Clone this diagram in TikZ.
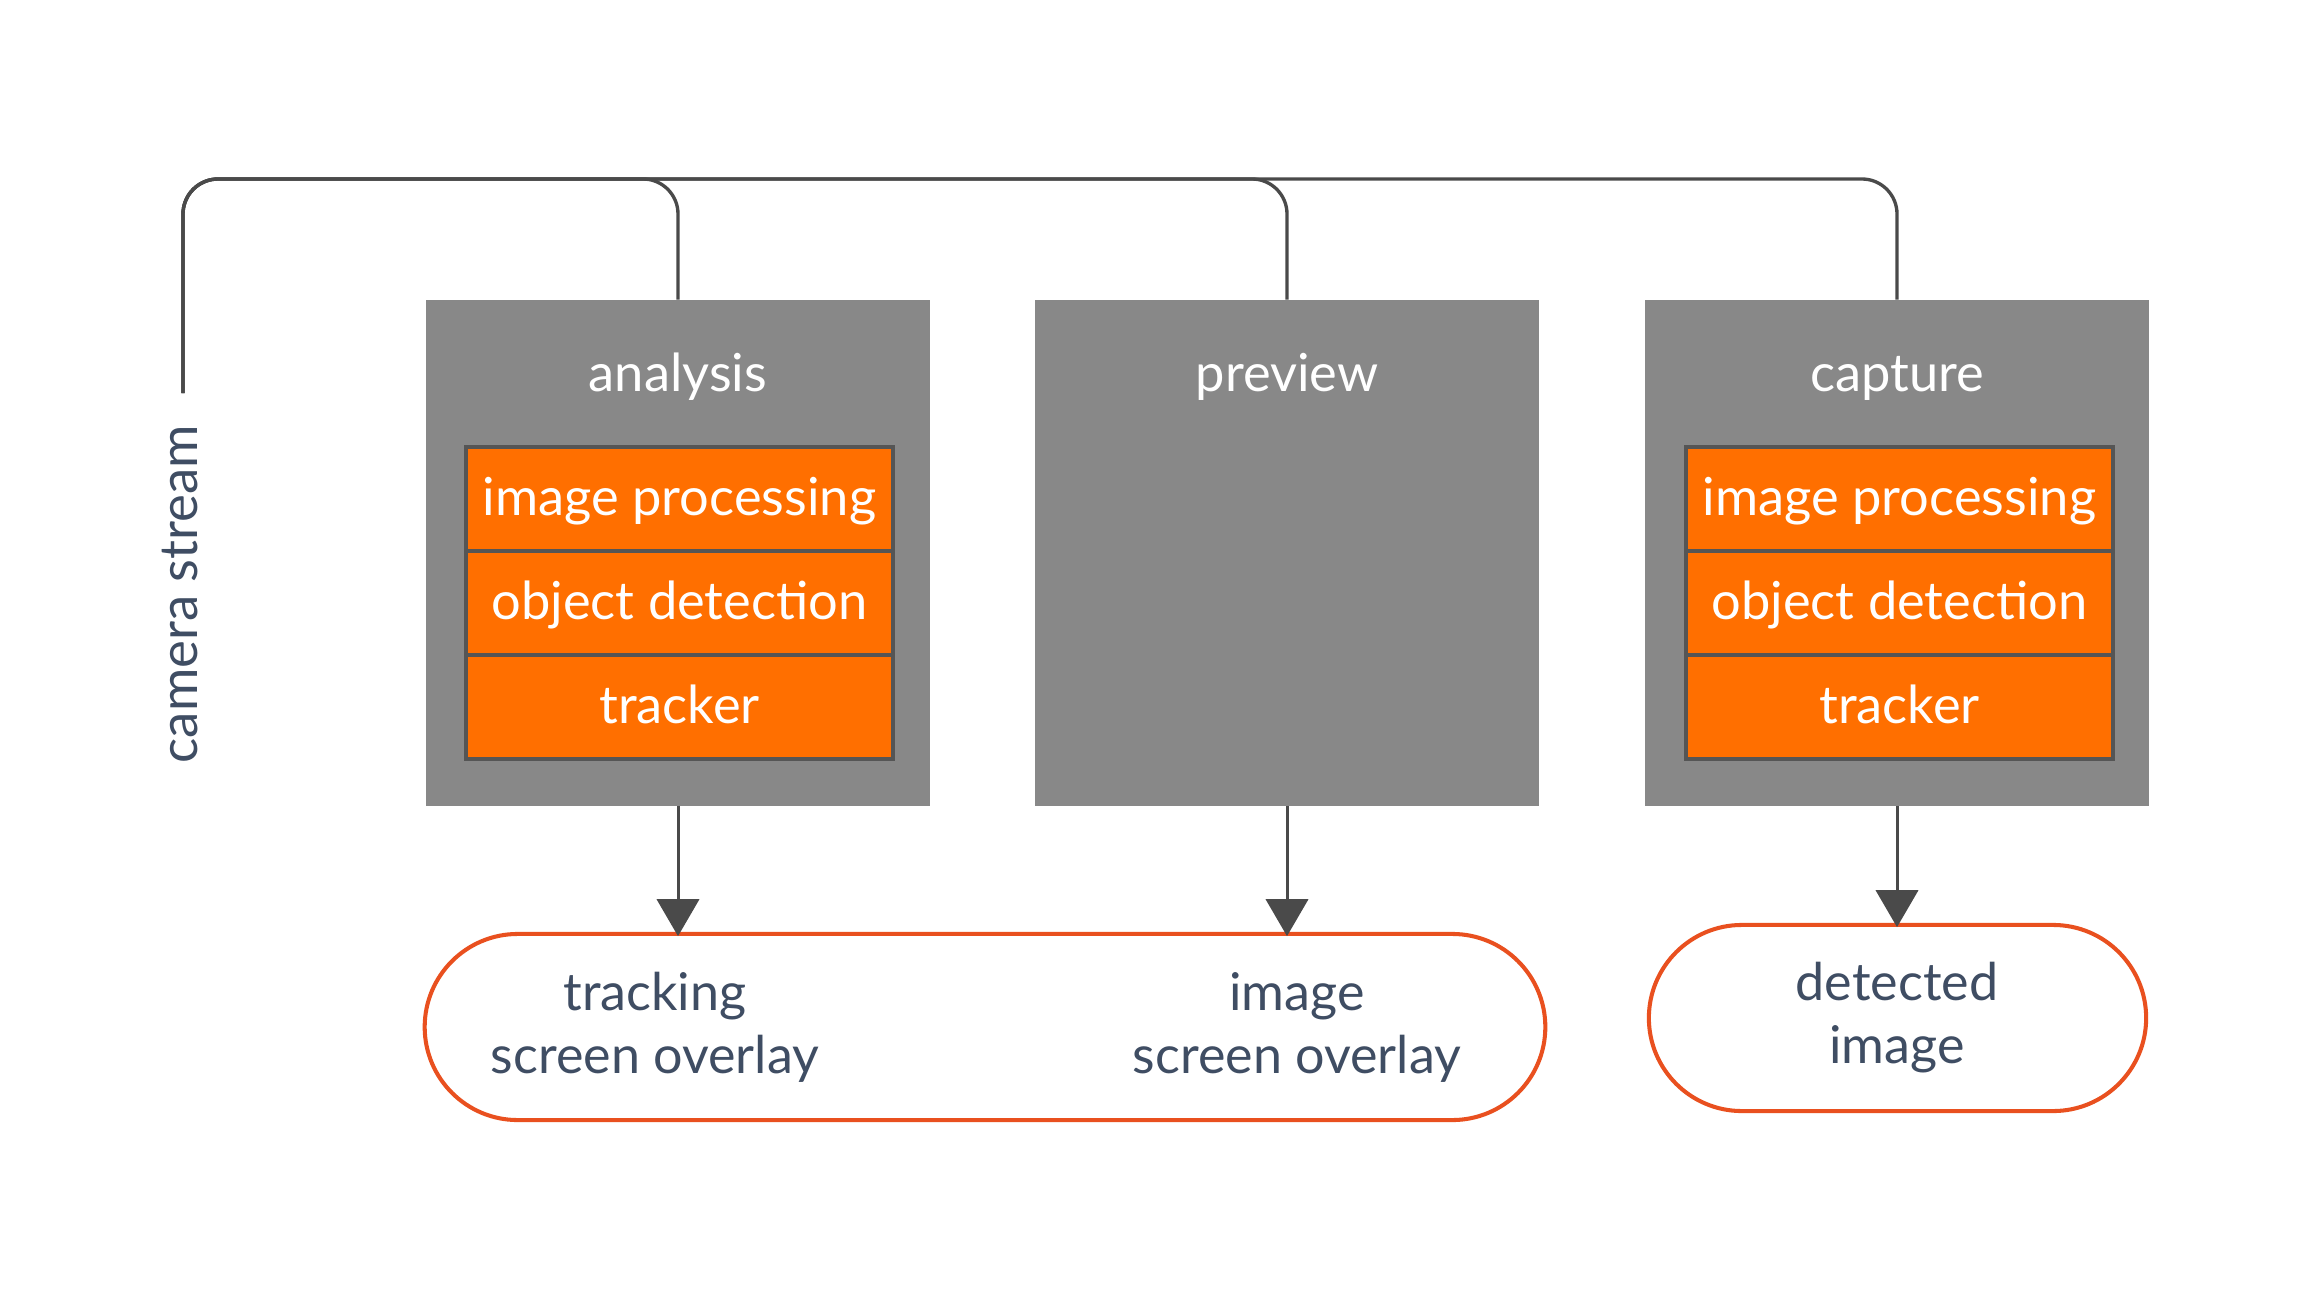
\documentclass[tikz,border=0pt]{standalone}
\usepackage{fontspec}
\setmainfont{Lato}
\usetikzlibrary{arrows.meta}
\definecolor{boxgray}{HTML}{888888}
\definecolor{cellorange}{HTML}{FF6F00}
\definecolor{cellborder}{HTML}{555555}
\definecolor{linegray}{HTML}{4A4A4A}
\definecolor{slate}{HTML}{3F4D63}
\definecolor{pillred}{HTML}{E9501F}
\tikzset{
  graybox/.style={fill=boxgray, draw=none, minimum width=5.04cm, minimum height=5.05cm, inner sep=0pt},
  boxlabel/.style={anchor=base, text=white, font=\fontsize{14.9}{18}\selectfont, inner sep=0pt},
  cell/.style={fill=cellorange, draw=cellborder, line width=1pt, minimum width=4.27cm, minimum height=1.04cm,
    text=white, font=\fontsize{14.9}{18}\selectfont, text height=0.5cm, text depth=0.18cm, inner sep=0pt},
  pill/.style={draw=pillred, line width=1.15pt, rounded corners=0.93cm, fill=white, inner sep=0pt},
  pilltext/.style={anchor=base, text=slate, font=\fontsize{14.8}{18}\selectfont, inner sep=0pt},
  conn/.style={draw=linegray, line width=0.95pt, rounded corners=0.35cm},
  arr/.style={draw=linegray, line width=0.85pt, shorten >=-1.2pt, -{Triangle[width=12pt,length=10.5pt]}},
}
\begin{document}
\begin{tikzpicture}[x=0.01cm, y=-0.01cm]
\useasboundingbox[fill=white] (0,0) rectangle (2300,1300);

% main boxes
\node[graybox] (analysis) at (678,553) {};
\node[graybox] (preview) at (1287,553) {};
\node[graybox] (capture) at (1897,553) {};
\node[boxlabel] (analysisL) at (678,391) {analysis};
\node[boxlabel] (previewL) at (1287,391) {preview};
\node[boxlabel] (captureL) at (1897,391) {capture};

% analysis cells
\node[cell] (a1) at (679.5,499) {image processing};
\node[cell] (a2) at (679.5,603) {object detection};
\node[cell] (a3) at (679.5,707) {tracker};
% capture cells
\node[cell] (c1) at (1899.5,499) {image processing};
\node[cell] (c2) at (1899.5,603) {object detection};
\node[cell] (c3) at (1899.5,707) {tracker};

% camera stream
\coordinate (cs) at (183,393);
\coordinate (topy) at (0,179);
\node[rotate=90, anchor=base, text=slate, font=\fontsize{15}{18}\selectfont, inner sep=0pt] (camL) at (197,594) {camera stream};
\draw[conn] (cs) -- (cs |- topy) -| (capture.north);
\draw[conn] (cs) -- (cs |- topy) -| (preview.north);
\draw[conn] (cs) -- (cs |- topy) -| (analysis.north);

% output pills
\node[pill, minimum width=11.2cm, minimum height=1.86cm] (out1) at (985,1027) {};
\node[pill, minimum width=4.97cm, minimum height=1.86cm] (out2) at (1897.5,1018) {};

\node[pilltext] (t1a) at (655,1010) {tracking};
\node[pilltext] (t1b) at (655,1073) {screen overlay};
\node[pilltext] (t2a) at (1297,1010) {image};
\node[pilltext] (t2b) at (1297,1073) {screen overlay};
\node[pilltext] (t3a) at (1897,1000) {detected};
\node[pilltext] (t3b) at (1897,1063) {image};

% arrows
\draw[arr] (analysis.south) -- (analysis.south |- out1.north);
\draw[arr] (preview.south) -- (preview.south |- out1.north);
\draw[arr] (capture.south) -- (capture.south |- out2.north);
\end{tikzpicture}
\end{document}
